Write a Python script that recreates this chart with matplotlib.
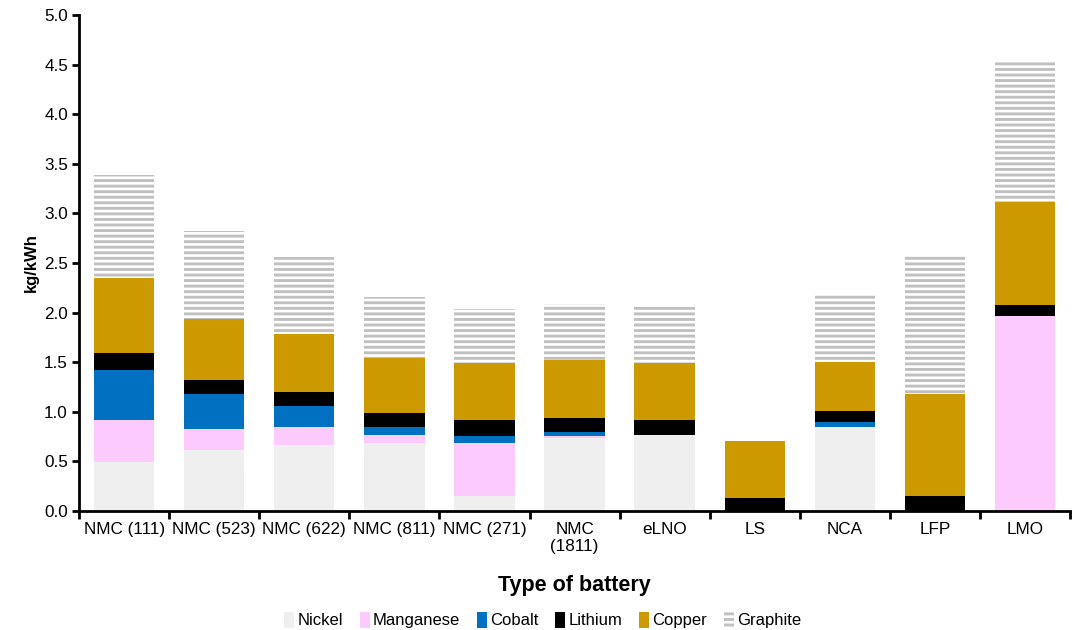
import numpy as np
import matplotlib
matplotlib.use('Agg')
import matplotlib.pyplot as plt

plt.rcParams['font.family'] = ['Liberation Sans', 'DejaVu Sans']
plt.rcParams['hatch.linewidth'] = 2.1

# Battery types and material content (kg/kWh)
batteries = ['NMC (111)', 'NMC (523)', 'NMC (622)', 'NMC (811)', 'NMC (271)',
             'NMC\n(1811)', 'eLNO', 'LS', 'NCA', 'LFP', 'LMO']
nickel    = [0.49, 0.61, 0.66, 0.68, 0.15, 0.74, 0.77, 0.00, 0.85, 0.00, 0.00]
manganese = [0.43, 0.22, 0.19, 0.09, 0.53, 0.02, 0.00, 0.00, 0.00, 0.00, 1.97]
cobalt    = [0.50, 0.35, 0.21, 0.08, 0.08, 0.04, 0.00, 0.00, 0.05, 0.00, 0.00]
lithium   = [0.17, 0.14, 0.14, 0.14, 0.16, 0.14, 0.15, 0.13, 0.11, 0.15, 0.11]
copper    = [0.76, 0.62, 0.58, 0.55, 0.57, 0.58, 0.57, 0.58, 0.49, 1.03, 1.04]
graphite  = [1.04, 0.88, 0.78, 0.62, 0.55, 0.57, 0.57, 0.00, 0.68, 1.39, 1.43]

series = [('Nickel', nickel, '#efefef'),
          ('Manganese', manganese, '#fccafc'),
          ('Cobalt', cobalt, '#0070c0'),
          ('Lithium', lithium, '#000000'),
          ('Copper', copper, '#cc9900')]

fig = plt.figure(figsize=(10.76, 6.3), dpi=100)
ax = fig.add_axes([0.0735, 0.189, 0.921, 0.787])

x = np.arange(len(batteries))
width = 0.67
bottom = np.zeros(len(batteries))
for name, vals, col in series:
    ax.bar(x, vals, width, bottom=bottom, color=col, label=name, linewidth=0)
    bottom += np.array(vals)

# graphite: white with grey horizontal stripes
ax.bar(x, graphite, width, bottom=bottom, facecolor='white', edgecolor='#c0c0c0',
       hatch='---', linewidth=0, label='Graphite')

ax.set_xlim(-0.5, len(batteries) - 0.5)
ax.set_ylim(0, 5.0)
ax.set_yticks(np.arange(0, 5.01, 0.5))
ax.set_yticklabels(['%.1f' % v for v in np.arange(0, 5.01, 0.5)], fontsize=12.3)

# category labels between boundary ticks
ax.set_xticks(np.arange(-0.5, len(batteries), 1.0))
ax.set_xticklabels([])
ax.set_xticks(x, minor=True)
ax.set_xticklabels(batteries, minor=True, fontsize=12.3, va='top')
ax.tick_params(axis='x', which='minor', length=0, pad=8)
ax.tick_params(axis='x', which='major', direction='out', length=6, width=2)
ax.tick_params(axis='y', direction='out', length=5, width=2, pad=3)

for s in ['top', 'right']:
    ax.spines[s].set_visible(False)
ax.spines['left'].set_linewidth(2)
ax.spines['bottom'].set_linewidth(2)

ax.set_ylabel('kg/kWh', fontsize=12, fontweight='bold', labelpad=4)
ax.set_xlabel('Type of battery', fontsize=15.5, fontweight='bold', labelpad=15)

ax.legend(loc='upper center', bbox_to_anchor=(0.468, -0.173), ncol=6, frameon=False,
          fontsize=12, handlelength=0.6, handleheight=1.1, handletextpad=0.2,
          columnspacing=1.0)

fig.savefig('out.png', dpi=100)
